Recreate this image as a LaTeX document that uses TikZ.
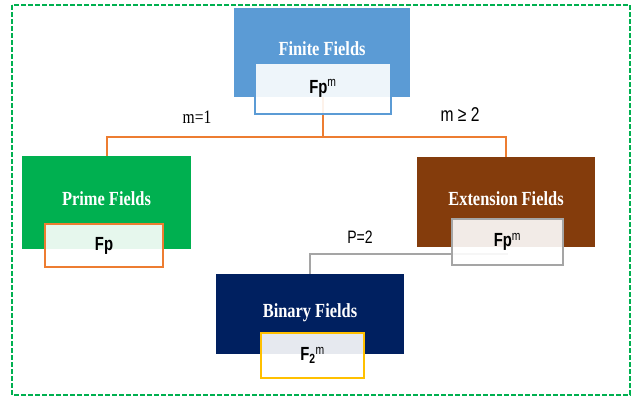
\documentclass[tikz,border=0pt]{standalone}
\usepackage{fontspec}
\newfontfamily\titlefont[FakeStretch=0.82]{Liberation Serif}
\newfontfamily\subfont[FakeStretch=0.78]{Liberation Sans}
\usetikzlibrary{backgrounds}
\definecolor{ffblue}{HTML}{5B9BD5}
\definecolor{ffgreen}{HTML}{00B050}
\definecolor{ffbrown}{HTML}{843C0C}
\definecolor{ffnavy}{HTML}{002060}
\definecolor{fforange}{HTML}{ED7D31}
\definecolor{ffgold}{HTML}{FFC000}
\definecolor{ffgray}{HTML}{A5A5A5}
\begin{document}
\begin{tikzpicture}[x=1pt,y=-1pt,
 field/.style={inner sep=0pt,text depth=7pt,text=white,font=\titlefont\bfseries\fontsize{20}{24}\selectfont},
 sub/.style={draw,line width=2pt,fill=white,fill opacity=0.9,text opacity=1,inner sep=0pt,font=\subfont\bfseries\fontsize{19}{22}\selectfont},
 conn/.style={line width=2pt}]
 \useasboundingbox (0,0) rectangle (631,397);
 \draw[ffgreen,line width=1.5pt,dash pattern=on 5pt off 2pt](12,5) rectangle (630,395);
 \node[field,fill=ffblue,minimum width=176pt,minimum height=89pt](finite) at (322,52.5){Finite Fields};
 \node[field,fill=ffgreen,minimum width=169pt,minimum height=93pt](prime) at (106.5,202.5){Prime Fields};
 \node[field,fill=ffbrown,minimum width=178pt,minimum height=90pt](ext) at (506,202){Extension Fields};
 \node[field,fill=ffnavy,minimum width=188pt,minimum height=80pt](binary) at (310,314){Binary Fields};
 \node[sub,draw=ffblue,minimum width=136pt,minimum height=51pt](finiteSub) at (323,88.5){Fp\textsuperscript{\mdseries m}};
 \node[sub,draw=fforange,minimum width=118pt,minimum height=43pt](primeSub) at (104,245.5){Fp};
 \node[sub,draw=ffgray,minimum width=111pt,minimum height=46pt](extSub) at (507.5,242){Fp\textsuperscript{\mdseries m}};
 \node[sub,draw=ffgold,minimum width=103pt,minimum height=45pt](binarySub) at (312.5,355.5){F\textsubscript{2}\textsuperscript{\mdseries m}};
 \node[font=\titlefont\fontsize{19}{21}\selectfont](mOne) at (197,117){m=1};
 \node[font=\subfont\fontsize{20}{23}\selectfont](mTwo) at (460,115){m ≥ 2};
 \node[font=\subfont\fontsize{18}{21}\selectfont](pTwo) at (360,237){P=2};
 \begin{scope}[on background layer]
 \draw[conn,fforange](finiteSub.center) -- ++(0,48.5) coordinate (split) -| (prime.north);
 \draw[conn,fforange](split) -| (ext.north);
 \draw[conn,ffgray]([yshift=-12pt]extSub.center) -| (binary.north);
 \end{scope}
\end{tikzpicture}
\end{document}
